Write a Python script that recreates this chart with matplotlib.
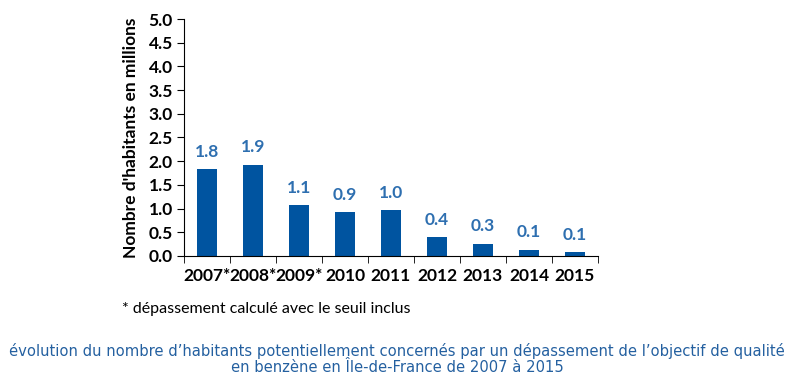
import matplotlib
matplotlib.use("Agg")
import matplotlib.pyplot as plt
import numpy as np

years = ["2007*", "2008*", "2009*", "2010", "2011", "2012", "2013", "2014", "2015"]
values = [1.83, 1.93, 1.07, 0.92, 0.96, 0.39, 0.26, 0.13, 0.08]
yticks = [0.0, 0.5, 1.0, 1.5, 2.0, 2.5, 3.0, 3.5, 4.0, 4.5, 5.0]

plt.rcParams['font.family'] = ['Lato', 'DejaVu Sans']

fig = plt.figure(figsize=(7.95, 3.78), dpi=100)
ax = fig.add_axes([0.2314, 0.3228, 0.5208, 0.6269])

x = np.arange(len(years))
ax.bar(x, values, width=0.42, color="#0054A0")
for xi, v in zip(x, values):
    ax.text(xi, v + 0.2, f"{v:.1f}", ha="center", va="bottom", fontsize=12.5,
            fontweight="bold", color="#2E6FB0")

ax.set_xlim(-0.5, len(years) - 0.5)
ax.set_ylim(0, 5.0)
ax.set_yticks(yticks)
ax.set_yticklabels([f"{t:.1f}" for t in yticks], fontsize=12.5, fontweight="bold")
ax.set_xticks(x)
ax.set_xticklabels(years, fontsize=12.5, fontweight="bold")
ax.set_xticks(np.arange(len(years) + 1) - 0.5, minor=True)
ax.tick_params(axis="x", which="major", length=0, pad=9)
ax.tick_params(axis="x", which="minor", length=5, direction="out", color="black")
ax.tick_params(axis="y", length=5, direction="out", pad=3)
for s in ["top", "right"]:
    ax.spines[s].set_visible(False)
ax.spines["left"].set_color("black")
ax.spines["bottom"].set_color("black")
ax.set_ylabel("Nombre d'habitants en millions", fontsize=12.5, fontweight="bold", labelpad=7)

fig.text(122 / 795, 1 - 309 / 378, "* dépassement calculé avec le seuil inclus",
         fontsize=11.5, color="black", va="center", ha="left")
fig.text(397 / 795, 1 - 351 / 378,
         "évolution du nombre d’habitants potentiellement concernés par un dépassement de l’objectif de qualité",
         fontsize=10.65, color="#2460A0", ha="center", va="center", family="DejaVu Sans")
fig.text(397 / 795, 1 - 368 / 378,
         "en benzène en Île-de-France de 2007 à 2015",
         fontsize=10.65, color="#2460A0", ha="center", va="center", family="DejaVu Sans")

fig.savefig("out.png", dpi=100)
